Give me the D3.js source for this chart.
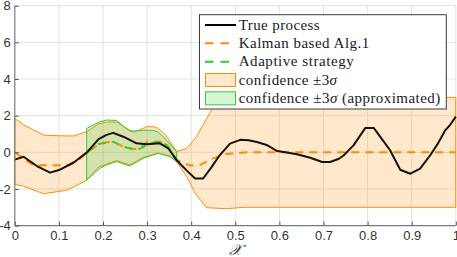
<!DOCTYPE html>
<html><head><meta charset="utf-8">
<script src="https://cdn.jsdelivr.net/npm/d3@7"></script>
<style>body{margin:0;background:#fff}svg{display:block}
.serif{font-family:"Liberation Serif","DejaVu Serif",serif}
.sans{font-family:"Liberation Sans","DejaVu Sans",sans-serif}
</style>
</head><body>
<svg id="c" width="457" height="257"></svg>
<script>
// ---- data ----
const xTicks = [0,0.1,0.2,0.3,0.4,0.5,0.6,0.7,0.8,0.9,1];
const xTickLabels = ["0","0.1","0.2","0.3","0.4","0.5","0.6","0.7","0.8","0.9","1"];
const yTicks = [-4,-2,0,2,4,6,8];
const yTickLabels = ["-4","-2","0","2","4","6","8"];

const trueX = [0,0.02,0.05,0.08,0.10,0.133,0.163,0.19,0.208,0.223,0.246,0.276,0.299,0.329,0.348,0.367,0.39,0.409,0.427,0.445,0.465,0.488,0.511,0.53,0.549,0.571,0.595,0.62,0.64,0.67,0.697,0.715,0.735,0.746,0.768,0.795,0.814,0.83,0.851,0.874,0.897,0.919,0.942,0.96,0.976,0.987,1.0];
const trueY = [-0.4,-0.24,-0.75,-1.11,-0.97,-0.57,-0.02,0.72,0.95,1.06,0.85,0.49,0.44,0.49,0.22,-0.43,-1.0,-1.43,-1.43,-0.85,-0.15,0.47,0.68,0.66,0.56,0.40,0.07,-0.03,-0.11,-0.3,-0.53,-0.53,-0.35,-0.16,0.38,1.33,1.33,0.8,0.11,-0.95,-1.17,-0.89,-0.16,0.5,1.2,1.49,1.95];

const kalX = [0,0.042,0.08,0.118,0.148,0.163,0.19,0.2,0.223,0.246,0.269,0.284,0.30,0.314,0.329,0.344,0.367,0.397,0.42,0.45,0.48,0.526,0.6,1.0];
const kalY = [0,-0.71,-0.7,-0.71,-0.35,0.0,0.42,0.52,0.58,0.31,0.17,0.22,0.57,0.56,0.58,0.45,-0.42,-0.72,-0.69,-0.33,-0.09,0.0,0.0,0.0];

const kalUpX = [0,0.02,0.065,0.1,0.133,0.163,0.19,0.208,0.231,0.254,0.27,0.29,0.30,0.32,0.34,0.367,0.375,0.39,0.412,0.446,0.47,0.49,0.51,1.0];
const kalUpY = [1.85,1.5,0.94,0.9,0.89,1.12,1.55,1.65,1.65,1.3,1.1,1.3,1.4,1.38,1.0,0.05,0.09,0.22,0.85,2.31,2.9,3.05,3.0,3.0];
const kalLoX = [0,0.02,0.065,0.118,0.163,0.19,0.208,0.231,0.261,0.291,0.325,0.352,0.367,0.375,0.39,0.409,0.435,0.48,0.52,1.0];
const kalLoY = [-1.75,-1.85,-2.26,-2.07,-1.53,-0.8,-0.65,-0.45,-0.7,-0.28,-0.05,-0.2,-0.5,-0.79,-1.33,-2.24,-3.02,-3.08,-3.0,-3.0];

const adaX = [0.163,0.19,0.2,0.223,0.246,0.269,0.284,0.31,0.329,0.344,0.367];
const adaY = [-0.02,0.45,0.5,0.58,0.31,0.17,0.2,0.5,0.58,0.4,-0.42];

const adaUpX = [0.163,0.193,0.208,0.231,0.246,0.261,0.291,0.314,0.325,0.337,0.367];
const adaUpY = [1.3,1.67,1.76,1.74,1.43,1.15,1.2,1.2,1.1,0.85,0.03];
const adaLoX = [0.163,0.193,0.208,0.231,0.261,0.291,0.325,0.352,0.367];
const adaLoY = [-1.51,-0.87,-0.69,-0.51,-0.75,-0.33,-0.05,-0.24,-0.51];

const legendLabels = ["True process","Kalman based Alg.1","Adaptive strategy","confidence ±3","confidence ±3"];
const legendWidths = [81,130.6,115,98.3,201.6];

// ---- chart ----
const svg = d3.select("#c");
const x = d3.scaleLinear().domain([0,1]).range([14.8,455.8]);
const y = d3.scaleLinear().domain([-4,8]).range([225.6,5.7]);
const pts = (X,Y) => X.map((v,i)=>[v,Y[i]]);
const line = d3.line().x(d=>x(d[0])).y(d=>y(d[1]));

// grid
const grid = svg.append("g");
grid.selectAll("line.v").data(xTicks.slice(1)).join("line")
  .attr("x1",d=>x(d)).attr("x2",d=>x(d)).attr("y1",y(-4)).attr("y2",y(8))
  .attr("stroke","#e3e3e3").attr("stroke-width",1);
grid.selectAll("line.h").data(yTicks.slice(1)).join("line")
  .attr("x1",x(0)).attr("x2",x(1)).attr("y1",d=>y(d)).attr("y2",d=>y(d))
  .attr("stroke","#e3e3e3").attr("stroke-width",1);

const orange = "#ff8c00", green = "#33cc33";
function band(upX,upY,loX,loY,col){
  const poly = pts(upX,upY).concat(pts(loX,loY).reverse());
  svg.append("path").attr("d",line(poly)+"Z")
    .attr("fill",col).attr("fill-opacity",0.2)
    .attr("stroke",col).attr("stroke-width",1);
}
band(kalUpX,kalUpY,kalLoX,kalLoY,orange);
band(adaUpX,adaUpY,adaLoX,adaLoY,green);

svg.append("path").attr("d",line(pts(kalX,kalY))).attr("fill","none")
  .attr("stroke",orange).attr("stroke-width",2).attr("stroke-dasharray","8,6");
svg.append("path").attr("d",line(pts(adaX,adaY))).attr("fill","none")
  .attr("stroke",green).attr("stroke-width",2).attr("stroke-dasharray","8,6");
svg.append("path").attr("d",line(pts(trueX,trueY))).attr("fill","none")
  .attr("stroke","#1a1208").attr("stroke-width",2).attr("stroke-linejoin","round");

// axes
const xAxis = d3.axisBottom(x).tickValues(xTicks).tickFormat((d,i)=>xTickLabels[i]).tickSize(-4).tickPadding(5.5);
const yAxis = d3.axisLeft(y).tickValues(yTicks).tickFormat((d,i)=>yTickLabels[i]).tickSize(-4).tickPadding(4);
const gx = svg.append("g").attr("transform",`translate(0,${y(-4)})`).call(xAxis);
const gy = svg.append("g").attr("transform",`translate(${x(0)},0)`).call(yAxis);
[gx,gy].forEach(g=>{
  g.attr("font-family",null).attr("font-size",null);
  g.select(".domain").attr("stroke","#7a7a7a").attr("stroke-width",1.2);
  g.selectAll(".tick line").attr("stroke","#555");
  g.selectAll("text").attr("class","sans").attr("fill","#333").style("font-size","13px");
});
gx.select(".domain").attr("d",`M${x(0)},0H${x(1)}`);
gy.select(".domain").attr("d",`M0,${y(-4)}V${y(8)}`);

svg.append("text").attr("class","serif").attr("x",x(0.5)).attr("y",255).attr("text-anchor","middle")
  .style("font-size","15px").style("font-style","italic")
  .attr("fill","#262626").text("𝒳");

// legend
const lg = svg.append("g");
lg.append("rect").attr("x",199.5).attr("y",14.7).attr("width",246.8).attr("height",94.3)
  .attr("fill","#fff").attr("stroke","#3a3a3a").attr("stroke-width",1);
const rowY = i => 25 + i*18.33;
lg.append("line").attr("x1",205).attr("x2",236).attr("y1",rowY(0)).attr("y2",rowY(0)).attr("stroke","#000").attr("stroke-width",2);
lg.append("line").attr("x1",205).attr("x2",236).attr("y1",rowY(1)).attr("y2",rowY(1)).attr("stroke",orange).attr("stroke-width",2).attr("stroke-dasharray","8.5,7");
lg.append("line").attr("x1",205).attr("x2",236).attr("y1",rowY(2)).attr("y2",rowY(2)).attr("stroke",green).attr("stroke-width",2).attr("stroke-dasharray","8.5,7");
[[3,orange],[4,green]].forEach(([i,c])=>{
  lg.append("rect").attr("x",205.5).attr("y",rowY(i)-6.5).attr("width",30).attr("height",13)
    .attr("fill",c).attr("fill-opacity",0.2).attr("stroke",c).attr("stroke-width",1);
});
legendLabels.forEach((t,i)=>{
  const tx = lg.append("text").attr("class","serif").attr("x",238.7).attr("y",rowY(i)+4.6)
    .attr("textLength",legendWidths[i]).attr("lengthAdjust","spacing")
    .style("font-size","15px").attr("fill","#1a1a1a");
  tx.append("tspan").text(t);
  if(i>=3){
    tx.append("tspan").style("font-style","italic").text("σ");
    if(i===4) tx.append("tspan").text(" (approximated)");
  }
});
</script>
</body></html>
